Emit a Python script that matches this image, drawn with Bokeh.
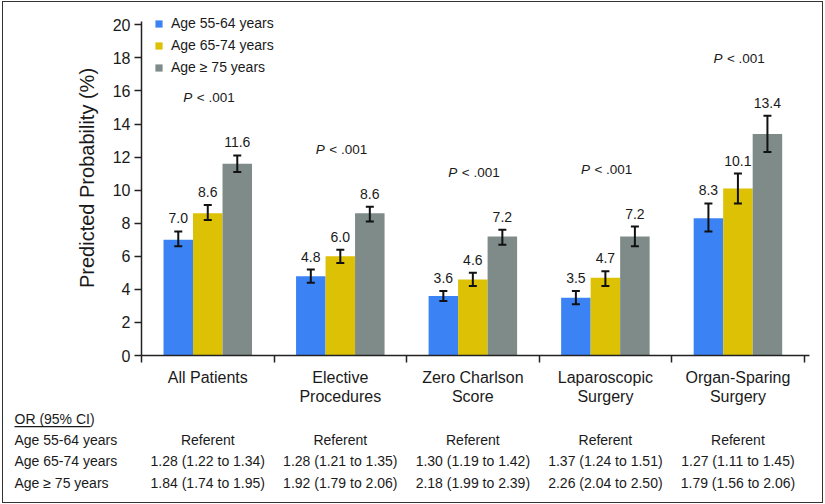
from bokeh.plotting import figure
from bokeh.layouts import column
from bokeh.models import (ColumnDataSource, Range1d, FixedTicker, Whisker, TeeHead,
                          LabelSet, Label, Legend, LegendItem, PolyAnnotation,
                          InlineStyleSheet)
from bokeh.core.properties import value
from bokeh.embed import file_html
from bokeh.resources import INLINE
import numpy as np

# ---------------- data ----------------
categories = ["All Patients", "Elective\nProcedures", "Zero Charlson\nScore",
              "Laparoscopic\nSurgery", "Organ-Sparing\nSurgery"]
groups = ["Age 55-64 years", "Age 65-74 years", "Age \u2265 75 years"]

prob_55_64 = [7.0, 4.8, 3.6, 3.5, 8.3]
prob_65_74 = [8.6, 6.0, 4.6, 4.7, 10.1]
prob_75 = [11.6, 8.6, 7.2, 7.2, 13.4]

lo_55_64 = [6.6, 4.4, 3.3, 3.1, 7.5]
hi_55_64 = [7.5, 5.2, 3.9, 3.9, 9.2]
lo_65_74 = [8.2, 5.6, 4.2, 4.2, 9.2]
hi_65_74 = [9.1, 6.4, 5.0, 5.1, 11.0]
lo_75 = [11.1, 8.1, 6.7, 6.6, 12.3]
hi_75 = [12.1, 9.0, 7.6, 7.8, 14.5]

p_values = ["< .001", "< .001", "< .001", "< .001", "< .001"]

or_header = "OR (95% CI)"
or_55_64 = ["Referent", "Referent", "Referent", "Referent", "Referent"]
or_65_74 = ["1.28 (1.22 to 1.34)", "1.28 (1.21 to 1.35)", "1.30 (1.19 to 1.42)",
            "1.37 (1.24 to 1.51)", "1.27 (1.11 to 1.45)"]
or_75 = ["1.84 (1.74 to 1.95)", "1.92 (1.79 to 2.06)", "2.18 (1.99 to 2.39)",
         "2.26 (2.04 to 2.50)", "1.79 (1.56 to 2.06)"]

y_ticks = [0, 2, 4, 6, 8, 10, 12, 14, 16, 18, 20]

# ---------------- styles / layout ----------------
colors = ["#3b83f4", "#dcc104", "#7e8b89"]
FONT = "Liberation Sans"
TXT = "#1a1a1a"

W = 825
HA, HB = 370, 134            # top figure (chart) and bottom figure (table)
LEFT, RIGHT, BOTTOM = 141, 16, 15
X_END, Y_AXIS_END = 5.04, 20.2
frame_w = W - LEFT - RIGHT
frame_h = HA - BOTTOM
px_x = frame_w / X_END
px_y = 16.535
Y_END = frame_h / px_y

p = figure(width=W, height=HA, output_backend="svg", toolbar_location=None,
           x_range=Range1d(0, X_END), y_range=Range1d(0, Y_END),
           min_border_left=LEFT, min_border_right=RIGHT,
           min_border_top=0, min_border_bottom=BOTTOM)
p.frame_align = False
p.outline_line_color = None
p.xgrid.visible = False
p.ygrid.visible = False
p.background_fill_color = "white"
p.border_fill_color = "white"

n = len(categories)
centers = np.arange(n) + 0.5
bw = 0.2226
series = [(prob_55_64, lo_55_64, hi_55_64), (prob_65_74, lo_65_74, hi_65_74),
          (prob_75, lo_75, hi_75)]
offsets = [-bw, 0.0, bw]

renderers = []
for k, (vals, lo, hi) in enumerate(series):
    src = ColumnDataSource(dict(x=centers + offsets[k], top=vals, lower=lo, upper=hi,
                                lab=["%.1f" % v for v in vals]))
    r = p.vbar(x="x", top="top", width=bw, bottom=0, source=src,
               fill_color=colors[k], line_color=None)
    renderers.append(r)
    wk = Whisker(source=src, base="x", lower="lower", upper="upper",
                 line_color="#111111", line_width=2,
                 upper_head=TeeHead(size=8, line_color="#111111", line_width=2),
                 lower_head=TeeHead(size=8, line_color="#111111", line_width=2),
                 level="overlay")
    p.add_layout(wk)
    p.add_layout(LabelSet(source=src, x="x", y="upper", text="lab", y_offset=8,
                          text_align="center", text_baseline="alphabetic",
                          text_font=value(FONT), text_font_size=value("14px"),
                          text_color=TXT))

# P-value labels above each group
pmax = [max(a, b, c) for a, b, c in zip(hi_55_64, hi_65_74, hi_75)]
psrc = ColumnDataSource(dict(x=centers, y=pmax, p=["P"] * n, rest=p_values))
p.add_layout(LabelSet(source=psrc, x="x", y="y", text="p", x_offset=-15.5, y_offset=53,
                      text_align="right", text_baseline="alphabetic",
                      text_font=value(FONT), text_font_style="italic",
                      text_font_size=value("13.5px"), text_color=TXT))
p.add_layout(LabelSet(source=psrc, x="x", y="y", text="rest", x_offset=-11, y_offset=53,
                      text_align="left", text_baseline="alphabetic",
                      text_font=value(FONT), text_font_size=value("13.5px"),
                      text_color=TXT))

# Axes
ya = p.yaxis[0]
ya.ticker = FixedTicker(ticks=y_ticks)
ya.bounds = (0, Y_AXIS_END)
ya.minor_tick_line_color = None
ya.major_tick_in = 0
ya.major_tick_out = 7
ya.major_tick_line_width = 1.5
ya.axis_line_width = 1.5
ya.axis_line_color = "#222222"
ya.major_tick_line_color = "#222222"
ya.major_label_text_font = FONT
ya.major_label_text_font_size = "16px"
ya.major_label_text_color = TXT
ya.major_label_standoff = 4
ya.axis_label = "Predicted Probability (%)"
ya.axis_label_text_font = FONT
ya.axis_label_text_font_size = "20px"
ya.axis_label_text_font_style = "normal"
ya.axis_label_text_color = TXT
ya.axis_label_standoff = 12

xa = p.xaxis[0]
xa.ticker = FixedTicker(ticks=list(range(n + 1)))
xa.minor_tick_line_color = None
xa.major_tick_in = 0
xa.major_tick_out = 7
xa.major_tick_line_width = 1.5
xa.axis_line_width = 1.5
xa.axis_line_color = "#222222"
xa.major_tick_line_color = "#222222"
xa.major_label_overrides = {i: "" for i in range(n + 1)}
xa.major_label_text_font_size = "0px"

# Legend (inside the frame, top-left)
legend = Legend(items=[LegendItem(label=g, renderers=[r]) for g, r in zip(groups, renderers)],
                location=(13, frame_h - 15 - 60), glyph_width=9, glyph_height=9,
                label_standoff=8, label_text_font=FONT, label_text_font_size="14px",
                label_text_color=TXT, label_height=16, spacing=6, padding=0, margin=0,
                border_line_color=None, background_fill_alpha=0)
p.add_layout(legend)

# ---------------- bottom figure: category names and OR table ----------------
# y is measured downward in pixels from the top of this figure (as negative numbers)
q = figure(width=W, height=HB, output_backend="svg", toolbar_location=None,
           x_axis_location=None, y_axis_location=None,
           x_range=Range1d(-LEFT / px_x, (W - LEFT) / px_x), y_range=Range1d(-HB, 0),
           min_border_left=0, min_border_right=0, min_border_top=0, min_border_bottom=0)
q.frame_align = False
q.xgrid.visible = False
q.ygrid.visible = False
q.outline_line_color = None
q.background_fill_color = "white"
q.border_fill_color = "white"

line1 = [c.split("\n")[0] for c in categories]
line2 = [c.split("\n")[1] if "\n" in c else "" for c in categories]
csrc = ColumnDataSource(dict(x=centers, y1=[-7] * n, y2=[-25.5] * n, l1=line1, l2=line2))
for col, ycol in (("l1", "y1"), ("l2", "y2")):
    q.add_layout(LabelSet(source=csrc, x="x", y=ycol, text=col,
                          text_align="center", text_baseline="middle",
                          text_font=value(FONT), text_font_size=value("16px"),
                          text_color=TXT))

row_x = (14 - LEFT) / px_x
q.add_layout(Label(x=row_x, y=-48.5, text=or_header, text_align="left",
                   text_baseline="middle", text_font=FONT,
                   text_font_size="14px", text_color=TXT))
ul_x1 = row_x + 76 / px_x
q.add_layout(PolyAnnotation(xs=[row_x, ul_x1, ul_x1, row_x], ys=[-55.6, -55.6, -56.8, -56.8],
                            fill_color=TXT, fill_alpha=1, line_color=None))

rows = [(groups[0], or_55_64, -74), (groups[1], or_65_74, -95.5), (groups[2], or_75, -117)]
for lab, vals, yb in rows:
    q.add_layout(Label(x=row_x, y=yb + 5, text=lab, text_align="left",
                       text_baseline="middle", text_font=FONT,
                       text_font_size="14px", text_color=TXT))
    tsrc = ColumnDataSource(dict(x=centers, y=[yb] * n, t=vals))
    q.add_layout(LabelSet(source=tsrc, x="x", y="y", text="t",
                          text_align="center", text_baseline="alphabetic",
                          text_font=value(FONT), text_font_size=value("14px"),
                          text_color=TXT))

frame_css = InlineStyleSheet(css=""":host { position: relative; }
:host::after { content: ''; position: absolute; left: 2px; top: 1px; right: 2px; bottom: 1px;
  border: 1.5px solid #333333; pointer-events: none; z-index: 100; }""")
layout = column(p, q, spacing=0, stylesheets=[frame_css])
open("out.html", "w").write(file_html(layout, INLINE))
